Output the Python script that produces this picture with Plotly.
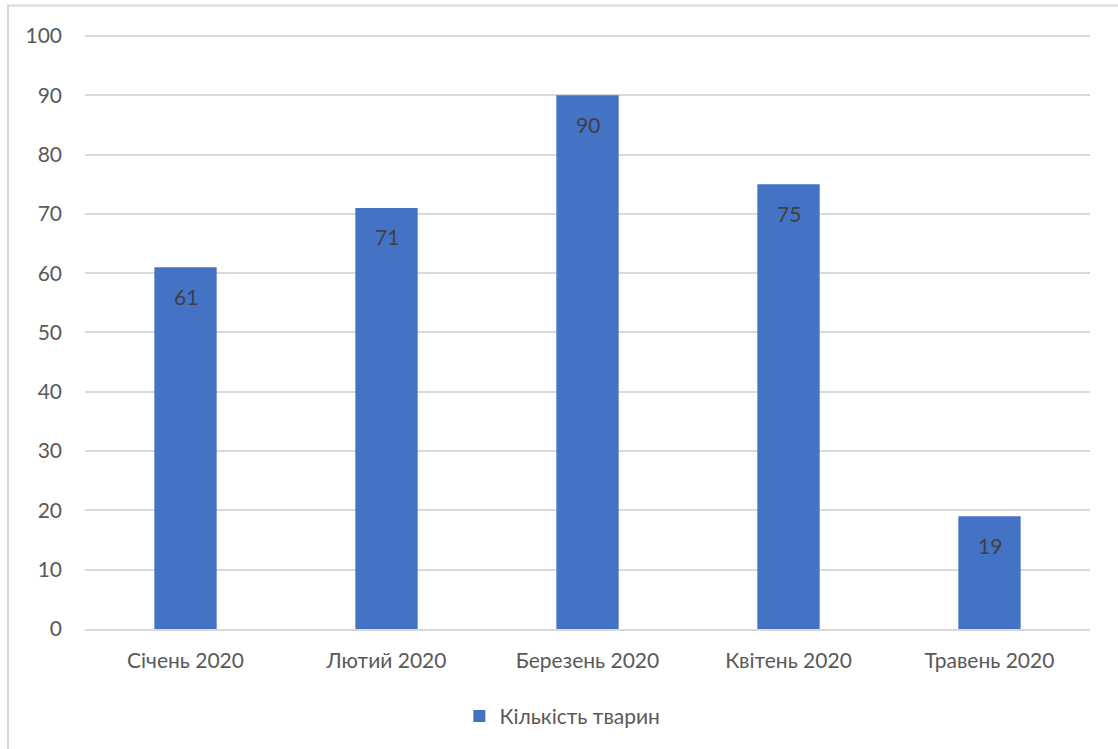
import plotly.graph_objects as go

categories = ["Січень 2020", "Лютий 2020", "Березень 2020", "Квітень 2020", "Травень 2020"]
values = [61, 71, 90, 75, 19]
series_name = "Кількість тварин"
tick_vals = [0, 10, 20, 30, 40, 50, 60, 70, 80, 90, 100]

FONT = "Lato, 'Open Sans', sans-serif"
BLUE = "#4472C4"
FS = 21

fig = go.Figure()
fig.add_trace(go.Bar(
    x=categories, y=values, name=series_name,
    marker=dict(color=BLUE, line=dict(width=0)),
    showlegend=True,
))

for c, v in zip(categories, values):
    fig.add_annotation(x=c, y=v, text=str(v), showarrow=False,
                       yanchor="middle", yshift=-29,
                       font=dict(family=FONT, size=FS, color="#404040"))

fig.update_layout(
    width=1118, height=749,
    margin=dict(l=85, r=28, t=33, b=118),
    paper_bgcolor="white", plot_bgcolor="white",
    bargap=0.69,
    font=dict(family=FONT, size=FS, color="#595959"),
    xaxis=dict(showgrid=False, showline=True, linecolor="#D9D9D9", linewidth=1.5,
               ticks="", tickfont=dict(size=FS, color="#595959"), ticklabelstandoff=12),
    yaxis=dict(range=[0, 100.5], tickvals=tick_vals, showgrid=True, gridcolor="#D9D9D9",
               gridwidth=1.5, zeroline=False, showline=False, ticks="",
               tickfont=dict(size=FS, color="#595959"), ticklabelstandoff=22),
    legend=dict(orientation="h", x=0.475, xanchor="center", y=-0.112, yanchor="top",
                font=dict(size=FS, color="#595959"), itemwidth=30),
    shapes=[dict(type="rect", xref="paper", yref="paper",
                 x0=-0.0766, x1=1.05, y0=-0.3, y1=1.046,
                 line=dict(color="#D9D9D9", width=2), fillcolor="rgba(0,0,0,0)", layer="below")],
)

fig.write_html("out.html")
